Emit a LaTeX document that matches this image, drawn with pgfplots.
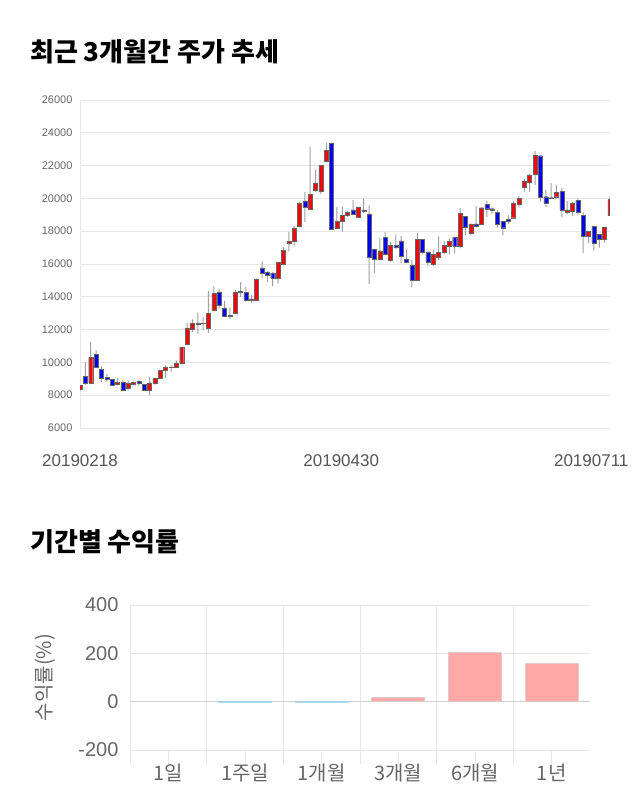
\documentclass[border=0pt]{standalone}
\usepackage{fontspec}
\usepackage{pgfplots}
\usepackage{pgfplotstable}
\pgfplotsset{compat=1.18}
\setmainfont{Liberation Sans}
\newfontfamily\kr{Noto Sans CJK KR}
\definecolor{tickgray}{HTML}{666666}
\definecolor{dategray}{HTML}{555555}
\definecolor{gridgray}{HTML}{E6E6E6}
\definecolor{zerogray}{HTML}{D0D0D0}
\definecolor{upred}{HTML}{FF0000}
\definecolor{downblue}{HTML}{0000FF}
\definecolor{bodyedge}{HTML}{666666}
\definecolor{wickgray}{HTML}{A0A0A0}
\definecolor{posbar}{HTML}{FFA8A8}
\definecolor{posedge}{HTML}{E3CACA}
\definecolor{negbar}{HTML}{A8D8E8}

\pgfplotstableread{
i o h l c
0 8350 8600 8250 8600
1 9150 10000 8600 8750
2 8750 11250 8750 10300
3 10500 10740 9680 9700
4 9580 9760 8800 9050
5 9070 9300 8800 8950
6 8970 9000 8550 8600
7 8650 9050 8600 8770
8 8770 8900 8250 8300
9 8400 8900 8300 8750
10 8650 8850 8600 8800
11 8830 8900 8550 8750
12 8660 8700 8250 8300
13 8300 9110 8000 8750
14 8750 9050 8650 9010
15 9010 9560 9000 9520
16 9520 9820 9050 9720
17 9680 9820 9420 9700
18 9720 10130 9700 9930
19 9930 10940 9930 10940
20 11100 12400 11050 12060
21 12000 12630 11860 12370
22 12350 13040 11760 12370
23 12360 12770 11960 12370
24 12060 14340 11800 12980
25 13180 14650 13180 14200
26 14300 14500 13280 13480
27 13320 13750 12770 12810
28 12790 13340 12650 12880
29 12980 14400 12980 14260
30 14340 14890 14000 14260
31 14260 14600 13690 13790
32 13870 14100 13650 13810
33 13790 15090 13750 15090
34 15760 16170 15130 15460
35 15480 15560 14910 15300
36 15440 15520 14650 15150
37 15150 16130 14810 16090
38 16010 17050 16010 16840
39 17290 17940 16760 17370
40 17410 18310 17070 18200
41 18310 19790 18310 19690
42 19850 20380 18570 19440
43 19360 23150 19320 20240
44 20500 21760 20400 20950
45 20460 22010 20260 22010
46 22250 23390 22200 22940
47 23350 23400 18100 18100
48 18200 19490 18120 18590
49 18590 19490 17980 18960
50 18960 19240 18880 19170
51 19300 19890 18980 19040
52 18880 19490 18880 19490
53 19220 19990 19120 19300
54 19060 19570 14770 16430
55 16880 16880 15460 16290
56 16290 17590 16290 16800
57 17610 17940 16600 16600
58 16230 17350 16130 17150
59 17150 17800 16900 17000
60 17410 17720 16030 16500
61 16290 16900 16030 16130
62 15900 16230 14570 14990
63 15030 17900 15030 17510
64 17510 17510 16580 16740
65 16740 16740 15880 16130
66 16010 16840 15880 16600
67 16440 17680 16230 16700
68 16700 17390 16600 17130
69 17110 17510 16580 17390
70 17610 17650 16640 17110
71 17110 19410 16950 19080
72 18920 18920 17760 18270
73 17860 18450 17760 18450
74 18450 19530 18300 18330
75 18410 19430 18410 19430
76 19630 19840 18880 19370
77 19370 19450 19040 19270
78 19160 19300 18210 18450
79 18610 18610 17760 18210
80 18730 18960 18450 18610
81 18820 19850 18820 19690
82 19650 20140 19450 20000
83 20690 21190 20420 21070
84 20990 21480 20420 21440
85 21480 22900 20830 22660
86 22600 22600 19810 20060
87 20100 20530 19490 19690
88 20040 20930 19950 19990
89 20100 20830 19950 20380
90 20420 20630 18840 19300
91 19140 19830 19020 19300
92 19240 19770 18920 19690
93 19890 19990 18980 19180
94 18980 19180 16640 17700
95 17700 18000 17250 18000
96 18310 18310 16800 17290
97 17820 17820 17000 17490
98 17490 18270 17290 18270
99 18960 20100 18960 19930
}\candles

\begin{document}
\begin{tikzpicture}[x=1pt,y=1pt]
\useasboundingbox (0,0) rectangle (640,810);
\node[anchor=west, inner sep=0pt] at (30,758) {\kr\bfseries\fontsize{26}{26}\selectfont 최근 3개월간 주가 추세};

% price axis with grid and wicks
\begin{axis}[
  at={(80pt,382pt)}, anchor=south west, scale only axis,
  width=530pt, height=328pt,
  xmin=0, xmax=99, ymin=6000, ymax=26000,
  enlarge x limits=false, enlarge y limits=false,
  scaled y ticks=false, scaled x ticks=false,
  ybar stacked, bar width=1pt,
  ytick={6000,8000,10000,12000,14000,16000,18000,20000,22000,24000,26000},
  yticklabels={6000,8000,10000,12000,14000,16000,18000,20000,22000,24000,26000},
  xtick={0,48.8,95.5},
  xticklabels={20190218,20190430,20190711},
  yticklabel style={font=\fontsize{11}{11}\selectfont, text=tickgray, xshift=-4pt},
  xticklabel style={font=\fontsize{17}{17}\selectfont, text=dategray, yshift=-23pt},
  ymajorgrids, grid style={draw=gridgray, line width=0.8pt},
  axis lines*=left, x axis line style={draw=none}, y axis line style={draw=gridgray, line width=0.8pt},
  major tick length=0pt,
]
\addplot[draw=none, fill=none] table[x=i, y=l] \candles;
\addplot[draw=none, fill=wickgray] table[x=i, y expr=\thisrow{h}-\thisrow{l}] \candles;
\end{axis}

% candle bodies
\begin{axis}[
  at={(80pt,382pt)}, anchor=south west, scale only axis,
  width=530pt, height=328pt,
  xmin=0, xmax=99, ymin=6000, ymax=26000,
  enlarge x limits=false, enlarge y limits=false,
  scaled y ticks=false,
  hide axis, ybar stacked, bar width=4pt,
]
\addplot[draw=none, fill=none] table[x=i, y expr={min(\thisrow{o},\thisrow{c})}] \candles;
\addplot[fill=upred, draw=bodyedge, line width=0.4pt] table[x=i, y expr={max(\thisrow{c}-\thisrow{o},0)}] \candles;
\addplot[fill=downblue, draw=bodyedge, line width=0.4pt] table[x=i, y expr={max(\thisrow{o}-\thisrow{c},0)}] \candles;
\end{axis}

\node[anchor=west, inner sep=0pt] at (30,268) {\kr\bfseries\fontsize{26}{26}\selectfont 기간별 수익률};

% returns chart
\begin{axis}[
  at={(130pt,60pt)}, anchor=south west, scale only axis,
  width=460pt, height=145pt,
  xmin=-0.5, xmax=5.5, ymin=-200, ymax=400,
  enlarge x limits=false, enlarge y limits=false,
  scaled y ticks=false,
  ytick={-200,0,200,400}, yticklabels={-200,0,200,400},
  xtick={-0.5,0.5,1.5,2.5,3.5,4.5},
  xticklabels={},
  xmajorgrids, ymajorgrids,
  grid style={draw=gridgray, line width=0.8pt},
  tick align=outside, xtick pos=left, ytick pos=left,
  major tick length=14pt,
  xtick style={draw=gridgray, line width=0.8pt},
  ytick style={draw=none},
  extra x ticks={0,1,2,3,4,5},
  extra x tick labels={1일,1주일,1개월,3개월,6개월,1년},
  extra x tick style={grid=none, tick style={draw=none}, tick label style={font=\kr\fontsize{20}{20}\selectfont, text=tickgray, yshift=4pt}},
  extra y ticks={0}, extra y tick labels={},
  extra y tick style={grid=major, major grid style={draw=zerogray, line width=0.8pt}, tick style={draw=none}},
  yticklabel style={font=\fontsize{20}{20}\selectfont, text=tickgray, xshift=6pt},
  axis line style={draw=none},
  ylabel={수익률(\%)},
  ylabel style={font=\kr\fontsize{20}{20}\selectfont, text=tickgray, at={(axis description cs:0,0.5)}, anchor=center, yshift=85pt},
]
\addplot[ybar, bar width=53pt, bar shift=0pt, fill=posbar, draw=posedge, line width=0.8pt] coordinates {(3,18) (4,203) (5,160)};
\addplot[ybar, bar width=53pt, bar shift=0pt, fill=negbar, draw=negbar, line width=0.8pt] coordinates {(1,-2) (2,-1)};
\end{axis}
\end{tikzpicture}
\end{document}
